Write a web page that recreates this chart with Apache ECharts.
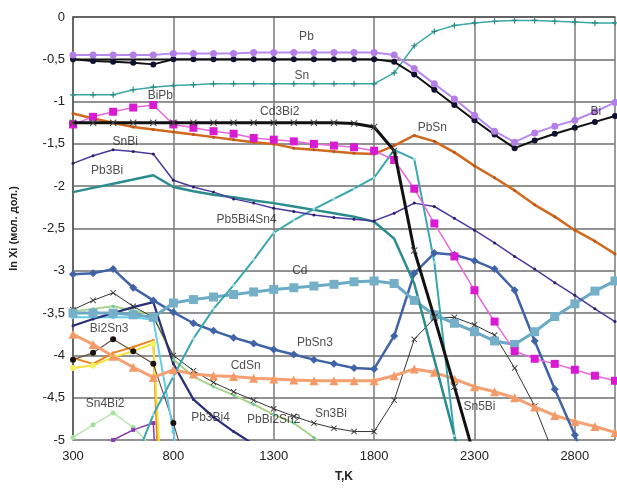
<!DOCTYPE html>
<html><head><meta charset="utf-8">
<script src="https://cdn.jsdelivr.net/npm/echarts@6/dist/echarts.min.js"></script>
<style>html,body{margin:0;padding:0;background:#fff}#c{width:617px;height:488px}</style>
</head><body><div id="c"></div>
<script>
const T = [300,400,500,600,700,800,900,1000,1100,1200,1300,1400,1500,1600,1700,1800,1900,2000,2100,2200,2300,2400,2500,2600,2700,2800,2900,3000];
const xTicks = [300,800,1300,1800,2300,2800];
const yTicks = [0,-0.5,-1,-1.5,-2,-2.5,-3,-3.5,-4,-4.5,-5];

const Pb      = [-0.45,-0.45,-0.45,-0.45,-0.45,-0.43,-0.43,-0.43,-0.43,-0.42,-0.42,-0.42,-0.42,-0.42,-0.42,-0.42,-0.45,-0.61,-0.79,-0.97,-1.16,-1.35,-1.48,-1.37,-1.29,-1.22,-1.12,-1.01];
const Bi      = [-0.5,-0.52,-0.53,-0.54,-0.56,-0.5,-0.5,-0.5,-0.5,-0.5,-0.5,-0.5,-0.5,-0.5,-0.5,-0.5,-0.53,-0.68,-0.86,-1.04,-1.22,-1.39,-1.55,-1.46,-1.38,-1.31,-1.24,-1.17];
const BiFlat  = [-0.5,-0.5,-0.5,-0.5,-0.5,-0.5,null,null,null,null,null,null,null,null,null,null,null,null,null,null,null,null,null,null,null,null,null,null];
const Sn      = [-0.92,-0.92,-0.92,-0.86,-0.83,-0.81,-0.8,-0.79,-0.79,-0.79,-0.79,-0.79,-0.79,-0.79,-0.79,-0.79,-0.66,-0.34,-0.17,-0.1,-0.07,-0.05,-0.04,-0.04,-0.05,-0.06,-0.07,-0.07];
const BiPb    = [-1.27,-1.18,-1.12,-1.07,-1.04,-1.27,-1.31,-1.35,-1.38,-1.43,-1.45,-1.47,-1.5,-1.52,-1.54,-1.58,-1.69,-2.03,-2.44,-2.83,-3.23,-3.6,-3.95,-4.04,-4.1,-4.17,-4.24,-4.3];
const Cd3Bi2  = [-1.25,-1.25,-1.25,-1.25,-1.25,-1.25,-1.25,-1.25,-1.25,-1.25,-1.25,-1.25,-1.25,-1.25,-1.26,-1.3,-1.58,-2.76,-3.55,-4.37,-5.2,null,null,null,null,null,null,null];
const SnBi    = [-1.73,-1.64,-1.57,-1.59,-1.62,-1.93,-2.01,-2.07,-2.15,-2.2,-2.26,-2.3,-2.34,-2.37,-2.39,-2.41,-2.32,-2.2,-2.24,-2.38,-2.52,-2.67,-2.83,-2.98,-3.14,-3.29,-3.45,-3.6];
const Pb3Bi   = [-2.07,-2.02,-1.97,-1.92,-1.87,-2.01,-2.06,-2.1,-2.13,-2.17,-2.2,-2.24,-2.28,-2.32,-2.36,-2.42,-2.62,-3.15,-4.05,-4.95,-5.9,null,null,null,null,null,null,null];
const Pb5Bi4Sn4 = [null,null,null,-5.3,-4.7,-4.25,-3.8,-3.45,-3.17,-2.87,-2.55,-2.4,-2.27,-2.15,-2.03,-1.9,-1.57,-1.68,-2.9,-4.95,-7,null,null,null,null,null,null,null];
const Cd      = [-3.5,-3.5,-3.5,-3.52,-3.55,-3.38,-3.34,-3.31,-3.28,-3.25,-3.22,-3.2,-3.18,-3.16,-3.13,-3.12,-3.15,-3.35,-3.52,-3.62,-3.72,-3.83,-3.87,-3.72,-3.54,-3.39,-3.24,-3.12];
const PbSn3   = [-3.04,-3.03,-2.98,-3.2,-3.35,-3.49,-3.62,-3.71,-3.79,-3.86,-3.93,-3.99,-4.05,-4.1,-4.15,-4.16,-3.77,-3.03,-2.79,-2.81,-2.88,-2.98,-3.23,-3.83,-4.4,-4.94,-5.6,null];
const CdSn    = [-3.75,-3.87,-4.01,-4.14,-4.26,-4.17,-4.22,-4.24,-4.25,-4.27,-4.28,-4.29,-4.3,-4.3,-4.3,-4.3,-4.24,-4.16,-4.2,-4.28,-4.37,-4.43,-4.5,-4.61,-4.71,-4.78,-4.84,-4.91];
const PbSn    = [-1.14,-1.2,-1.25,-1.3,-1.33,-1.36,-1.39,-1.42,-1.45,-1.48,-1.5,-1.55,-1.57,-1.59,-1.61,-1.62,-1.52,-1.4,-1.47,-1.6,-1.76,-1.9,-2.05,-2.22,-2.36,-2.52,-2.65,-2.8];
const Sn3Bi   = [-3.46,-3.35,-3.26,-3.42,-3.55,-4.0,-4.18,-4.32,-4.43,-4.53,-4.63,-4.72,-4.8,-4.86,-4.9,-4.9,-4.53,-3.81,-3.56,-3.55,-3.64,-3.76,-4.15,-4.6,-5.2,null,null,null];
const Pb3Bi4  = [-3.65,-3.57,-3.5,-3.43,-3.37,-4.1,-4.52,-4.73,-4.9,-5.05,null,null,null,null,null,null,null,null,null,null,null,null,null,null,null,null,null,null];
const Bi2Sn3  = [-3.55,-3.55,-3.55,-3.55,-3.58,-4.9,-6.5,null,null,null,null,null,null,null,null,null,null,null,null,null,null,null,null,null,null,null,null,null];
const PbBi2Sn2 = [-3.48,-3.45,-3.42,-3.47,-3.52,-4.05,-4.25,-4.37,-4.47,-4.58,-4.7,-4.8,-4.97,-5.15,null,null,null,null,null,null,null,null,null,null,null,null,null,null];
const SnBi3   = [-4.03,-4.1,-3.97,-3.9,-3.82,-10,null,null,null,null,null,null,null,null,null,null,null,null,null,null,null,null,null,null,null,null,null,null];
const Sn2Bi   = [-4.15,-4.12,-4.02,-3.95,-3.86,-8,null,null,null,null,null,null,null,null,null,null,null,null,null,null,null,null,null,null,null,null,null,null];
const PbBi    = [-4.05,-3.97,-3.81,-3.95,-4.1,-4.8,-5.6,null,null,null,null,null,null,null,null,null,null,null,null,null,null,null,null,null,null,null,null,null];
const PbBi2   = [null,-5.15,-5.0,-4.88,-4.8,-9,null,null,null,null,null,null,null,null,null,null,null,null,null,null,null,null,null,null,null,null,null,null];
const Sn4Bi2  = [-4.97,-4.82,-4.68,-4.85,-5.1,null,null,null,null,null,null,null,null,null,null,null,null,null,null,null,null,null,null,null,null,null,null,null];

const labelNames = ['Pb','Sn','BiPb','Cd3Bi2','SnBi','Pb3Bi','Pb5Bi4Sn4','PbSn','Bi','Cd','PbSn3','CdSn','Bi2Sn3','Sn4Bi2','Pb3Bi4','PbBi2Sn2','Sn3Bi','Sn5Bi'];
const labelX = [1463,1440,735,1330,560,470,1165,2090,2905,1430,1505,1160,480,460,985,1300,1585,2325];
const labelY = [-0.23,-0.69,-0.93,-1.12,-1.47,-1.82,-2.4,-1.31,-1.12,-3.0,-3.85,-4.12,-3.69,-4.57,-4.74,-4.76,-4.69,-4.61];

const PLUS = 'path://M4,0H6V4H10V6H6V10H4V6H0V4H4Z';
const XMARK = 'path://M0,1L1,0L5,4L9,0L10,1L6,5L10,9L9,10L5,6L1,10L0,9L4,5Z';

function mk(name, vals, color, width, symbol, size, symColor, z){
  return {
    name, type:'line', data: T.map((t,i)=>[t, vals[i]]),
    clip:true, connectNulls:false, showAllSymbol:true,
    symbol: symbol || 'none', symbolSize: size || 0,
    lineStyle:{color, width}, itemStyle:{color: symColor || color, borderWidth:0},
    z: z || 2, emphasis:{disabled:true}, animation:false
  };
}

const series = [
  mk('Sn4Bi2', Sn4Bi2, '#b8e6b0', 1.5, 'circle', 5, '#a8e0a0'),
  mk('PbBi2', PbBi2, '#8a3cb0', 1.5, 'rect', 4, '#8a3cb0'),
  mk('SnBi3', SnBi3, '#e8861e', 2, 'circle', 3),
  mk('Sn2Bi', Sn2Bi, '#f2e23a', 2, 'circle', 6, '#f0f060'),
  mk('PbBi', PbBi, '#6a5040', 1.2, 'circle', 6, '#1a1010'),
  mk('Bi2Sn3', Bi2Sn3, '#66ccee', 2, 'circle', 4),
  mk('PbBi2Sn2', PbBi2Sn2, '#a8d48a', 2, 'circle', 3, '#6cc8a0'),
  mk('Pb3Bi4', Pb3Bi4, '#2a2f7a', 2.2, 'circle', 3),
  mk('Sn3Bi', Sn3Bi, '#333333', 1, XMARK, 6, '#333333'),
  mk('CdSn', CdSn, '#f4a070', 3, 'triangle', 9, '#f49a66'),
  mk('PbSn3', PbSn3, '#3f63a6', 2.5, 'diamond', 8, '#3f63a6'),
  mk('Cd', Cd, '#6aaac6', 3, 'rect', 9, '#76b0c8'),
  mk('Pb5Bi4Sn4', Pb5Bi4Sn4, '#3aa6b0', 2, 'circle', 3, '#9fdde0'),
  mk('Pb3Bi', Pb3Bi, '#2a8c8c', 2.5),
  mk('SnBi', SnBi, '#4a3aa0', 1.5, 'circle', 3, '#2a2060'),
  mk('PbSn', PbSn, '#d06a1e', 2.5, 'circle', 3, '#b8561a'),
  mk('BiPb', BiPb, '#e868e0', 1.5, 'rect', 8, '#d81ad0'),
  mk('Cd3Bi2', Cd3Bi2, '#111111', 3, XMARK, 7, '#444444', 3),
  mk('Sn', Sn, '#3aa8a4', 1.5, PLUS, 6, '#2a8884'),
  mk('BiFlat', BiFlat, '#111111', 1.5),
  mk('Bi', Bi, '#111111', 2, 'circle', 6, '#101030', 3),
  mk('Pb', Pb, '#b88aee', 2, 'circle', 7, '#b47ee8', 3),
  {
    type:'scatter', name:'labels', symbolSize:0, z:10, animation:false, silent:true,
    data: labelNames.map((n,i)=>[labelX[i], labelY[i], n]),
    label:{show:true, position:'inside', formatter:p=>p.data[2], color:'#222', fontSize:12, fontFamily:'Liberation Sans, Arial, sans-serif'}
  }
];

const chart = echarts.init(document.getElementById('c'), null, {renderer:'canvas'});
chart.setOption({
  backgroundColor:'#fff',
  animation:false,
  grid:{left:70, right:2, top:17, bottom:41, containLabel:false},
  xAxis:{
    type:'value', min:300, max:3000, interval:500,
    name:'T,K', nameLocation:'middle', nameGap:31,
    nameTextStyle:{fontWeight:'bold', fontSize:12, color:'#222', fontFamily:'Liberation Sans, Arial'},
    axisLine:{show:true, lineStyle:{color:'#555', width:1.5}},
    axisTick:{show:false},
    axisLabel:{color:'#222', fontSize:13, margin:10, showMaxLabel:false, fontFamily:'Liberation Sans, Arial',
      formatter:v=> xTicks.includes(v) ? String(v) : ''},
    splitLine:{show:true, lineStyle:{color:'#7a7a7a', width:1.5}}
  },
  yAxis:{
    type:'value', min:-5, max:0, interval:0.5,
    name:'ln Xi (мол. дол.)', nameLocation:'middle', nameGap:54,
    nameTextStyle:{fontWeight:'bold', fontSize:11, color:'#222', fontFamily:'Liberation Sans, Arial'},
    axisLine:{show:true, lineStyle:{color:'#555', width:1.5}},
    axisTick:{show:false},
    axisLabel:{color:'#222', fontSize:13, margin:8, fontFamily:'Liberation Sans, Arial',
      formatter:v=> yTicks.includes(v) ? String(v).replace('.', ',') : ''},
    splitLine:{show:true, lineStyle:{color:'#6e6e6e', width:1.5}}
  },
  series
});
</script></body></html>
